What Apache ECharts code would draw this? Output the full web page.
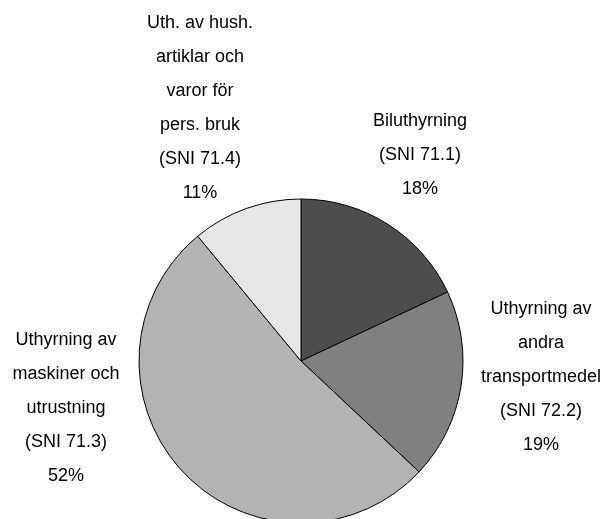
<!DOCTYPE html>
<html>
<head>
<meta charset="utf-8">
<script src="https://cdn.jsdelivr.net/npm/echarts@6/dist/echarts.min.js"></script>
<style>
    html, body { margin: 0; padding: 0; background: #ffffff; }
    #chart { width: 604px; height: 519px; }
</style>
</head>
<body>
<div id="chart"></div>
<script>
// andelar i procent, medurs från kl. 12
var categories = [
    'Biluthyrning\n(SNI 71.1)',
    'Uthyrning av\nandra\ntransportmedel\n(SNI 72.2)',
    'Uthyrning av\nmaskiner och\nutrustning\n(SNI 71.3)',
    'Uth. av hush.\nartiklar och\nvaror för\npers. bruk\n(SNI 71.4)'
];
var values = [18, 19, 52, 11];
var colors = ['#4d4d4d', '#808080', '#b3b3b3', '#e6e6e6'];
// etiketternas mittpunkter (px)
var labelPos = [[420, 155], [541, 377], [66, 408], [200, 108]];

var chart = echarts.init(document.getElementById('chart'));
var pieData = [];
for (var i = 0; i < categories.length; i++) {
    pieData.push({ name: categories[i], value: values[i], itemStyle: { color: colors[i] } });
}
chart.setOption({
    animation: false,
    backgroundColor: '#ffffff',
    series: [{
        type: 'pie',
        center: [301, 361],
        radius: 162,
        startAngle: 90,
        clockwise: true,
        silent: true,
        itemStyle: { borderColor: '#000000', borderWidth: 1 },
        label: {
            show: true,
            position: 'outside',
            color: '#000000',
            fontFamily: 'Liberation Sans',
            fontSize: 18,
            lineHeight: 34,
            align: 'center',
            overflow: 'none',
            width: 200,
            formatter: function(p) { return p.name + '\n' + p.value + '%'; }
        },
        labelLine: { show: false },
        labelLayout: function(params) {
            var p = labelPos[params.dataIndex];
            return { x: p[0], y: p[1], align: 'center', verticalAlign: 'middle' };
        },
        data: pieData
    }]
});
</script>
</body>
</html>
